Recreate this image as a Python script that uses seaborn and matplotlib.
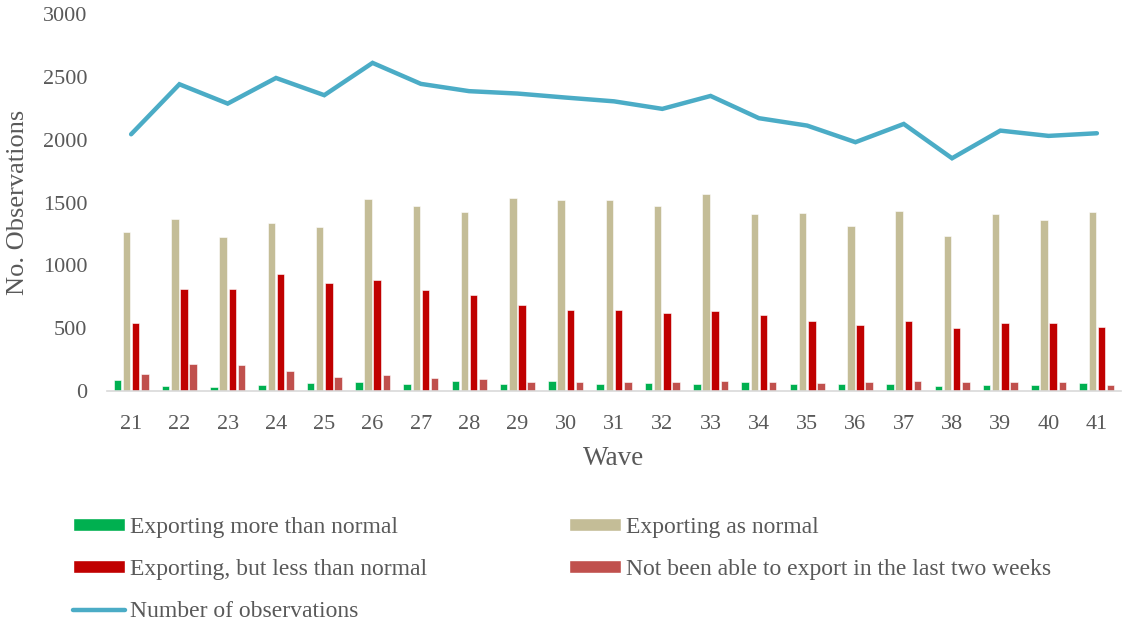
import numpy as np
import pandas as pd
import matplotlib
matplotlib.use("Agg")
import matplotlib.pyplot as plt
from matplotlib.patches import Patch
from matplotlib.lines import Line2D
import seaborn as sns

waves = [str(w) for w in range(21, 42)]

more_than_normal = [85, 37, 32, 50, 64, 69, 56, 82, 58, 80, 58, 64, 53, 69, 58, 53, 53, 42, 48, 45, 61]
as_normal = [1268, 1367, 1226, 1335, 1305, 1528, 1475, 1427, 1533, 1517, 1520, 1473, 1571, 1409, 1414,
             1316, 1430, 1231, 1406, 1359, 1422]
less_than_normal = [541, 809, 809, 931, 857, 881, 801, 762, 687, 645, 645, 623, 634, 607, 557,
                    523, 555, 499, 539, 544, 507]
not_able = [135, 215, 204, 156, 114, 125, 101, 93, 74, 74, 69, 69, 80, 69, 64, 72, 77, 69, 72, 69, 50]
observations = [2043, 2441, 2287, 2491, 2354, 2611, 2444, 2386, 2367, 2335, 2305, 2245, 2348, 2171,
                2112, 1980, 2125, 1852, 2072, 2030, 2051]

series_names = [
    "Exporting more than normal",
    "Exporting as normal",
    "Exporting, but less than normal",
    "Not been able to export in the last two weeks",
]
line_name = "Number of observations"
colors = ["#00B050", "#C4BD97", "#C00000", "#C0504D"]
line_color = "#4BACC6"

df = pd.DataFrame({
    "Wave": waves * 4,
    "Status": np.repeat(series_names, len(waves)),
    "Count": more_than_normal + as_normal + less_than_normal + not_able,
})

sns.set_theme(style="white")
plt.rcParams["font.family"] = ["Liberation Serif", "DejaVu Serif"]
text_color = "#595959"

fig = plt.figure(figsize=(11.26, 6.25), dpi=100)
ax = fig.add_axes([0.095, 0.3744, 0.9006, 0.6032])

sns.barplot(data=df, x="Wave", y="Count", hue="Status", hue_order=series_names,
            palette=colors, saturation=1, width=0.76, gap=0.18, ax=ax, legend=False,
            edgecolor="white", linewidth=0.4)

sns.lineplot(x=np.arange(len(waves)), y=observations, color=line_color, linewidth=3.2,
             ax=ax, solid_capstyle="round", solid_joinstyle="miter")

ax.set_ylim(0, 3000)
ax.set_yticks(np.arange(0, 3001, 500))
ax.set_xlim(-0.5, len(waves) - 0.5)
ax.set_xticks(np.arange(len(waves)))
ax.set_xticklabels(waves)
ax.tick_params(axis="both", length=0, labelsize=16, colors=text_color)
ax.tick_params(axis="x", pad=17)
ax.tick_params(axis="y", pad=14)

for side in ["left", "right", "top"]:
    ax.spines[side].set_visible(False)
ax.spines["bottom"].set_color("#D9D9D9")
ax.spines["bottom"].set_linewidth(1.2)

ax.set_xlabel("Wave", fontsize=19.5, color=text_color, labelpad=9)
ax.set_ylabel("No. Observations", fontsize=19, color=text_color, labelpad=10)

handles = [
    Patch(facecolor=colors[0], label=series_names[0]),
    Patch(facecolor=colors[2], label=series_names[2]),
    Line2D([0], [0], color=line_color, linewidth=3.2, solid_capstyle="round", label=line_name),
    Patch(facecolor=colors[1], label=series_names[1]),
    Patch(facecolor=colors[3], label=series_names[3]),
]
leg = fig.legend(handles=handles, ncol=2, loc="upper left", bbox_to_anchor=(0.0648, 0.173),
                 frameon=False, fontsize=17, handlelength=2.2, handleheight=0.5,
                 handletextpad=0.2, labelspacing=0.9, columnspacing=6.02,
                 borderaxespad=0, borderpad=0)
for t in leg.get_texts():
    t.set_color(text_color)

fig.savefig("out.png", dpi=100)
